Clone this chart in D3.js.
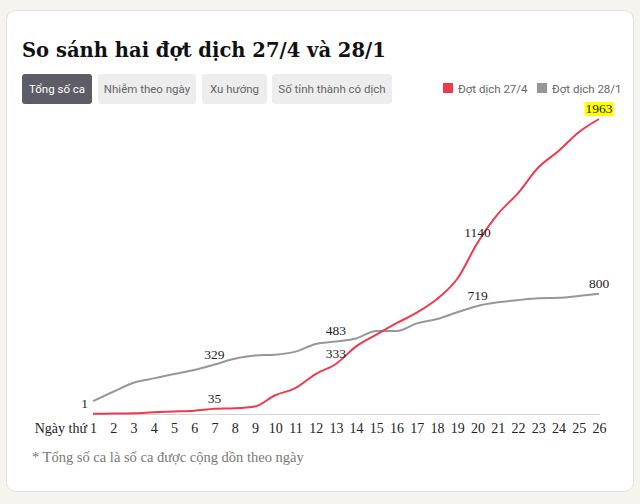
<!DOCTYPE html>
<html>
<head>
<meta charset="utf-8">
<script src="https://cdn.jsdelivr.net/npm/d3@7"></script>
<style>
  html, body { margin: 0; padding: 0; background: #f6f4ef; }
  svg { display: block; }
</style>
</head>
<body>
<svg id="chart" width="640" height="504"></svg>
<script>
// ---- data ----
const days = d3.range(1, 27);
const seriesNames = ["Đợt dịch 27/4", "Đợt dịch 28/1"];
const red27_4 = [2, 3, 5, 12, 17, 22, 35, 38, 50, 125, 172, 266, 333, 450, 528, 604, 675, 765, 900, 1140, 1330, 1470, 1640, 1750, 1875, 1963];
const gray28_1 = [86, 148, 208, 237, 266, 293, 329, 368, 390, 395, 415, 466, 483, 503, 552, 552, 603, 632, 677, 719, 743, 758, 770, 773, 785, 800];
const buttons = ["Tổng số ca", "Nhiễm theo ngày", "Xu hướng", "Số tỉnh thành có dịch"];
const redLabels = [{day: 7, text: "35"}, {day: 13, text: "333"}, {day: 20, text: "1140"}, {day: 26, text: "1963", highlight: true}];
const grayLabels = [{day: 1, text: "1", side: "left"}, {day: 7, text: "329"}, {day: 13, text: "483"}, {day: 20, text: "719"}, {day: 26, text: "800"}];
const titleText = "So sánh hai đợt dịch 27/4 và 28/1";
const axisPrefix = "Ngày thứ";
const footnote = "* Tổng số ca là số ca được cộng dồn theo ngày";

const colors = ["#eb3b4d", "#97969b"];
const serif = "'DejaVu Serif', serif";
const serifText = "'Liberation Serif', serif";
const sans = "Roboto, 'Liberation Sans', sans-serif";

const svg = d3.select("#chart");

// card
svg.append("rect").attr("x", 0).attr("y", 0).attr("width", 640).attr("height", 504).attr("fill", "#f6f4ef");
svg.append("rect").attr("x", 6.5).attr("y", 10.5).attr("width", 627).attr("height", 481)
  .attr("rx", 9).attr("fill", "#fff").attr("stroke", "#e3e1dc");

// title (fit to reference width)
const title = svg.append("text").attr("x", 22).attr("y", 57)
  .attr("font-family", serif).attr("font-weight", "bold").attr("font-size", 24)
  .attr("fill", "#111").text(titleText);
const tw = title.node().getComputedTextLength();
title.attr("font-size", 24 * 364 / tw);

// buttons
const btnX = [22, 98, 202, 272];
const btnW = [70, 98, 65, 120];
const bg = svg.append("g");
buttons.forEach((b, i) => {
  bg.append("rect").attr("x", btnX[i]).attr("y", 74).attr("width", btnW[i]).attr("height", 30)
    .attr("rx", 3).attr("fill", i === 0 ? "#5e5c66" : "#ededee");
  bg.append("text").attr("x", btnX[i] + btnW[i] / 2).attr("y", 93)
    .attr("text-anchor", "middle").attr("font-family", sans).attr("font-size", 11.5)
    .attr("fill", i === 0 ? "#fff" : "#666").text(b);
});

// legend
const legX = [443, 537];
seriesNames.forEach((n, i) => {
  svg.append("rect").attr("x", legX[i]).attr("y", 83).attr("width", 10).attr("height", 10).attr("fill", colors[i]);
  svg.append("text").attr("x", legX[i] + 15).attr("y", 92.5)
    .attr("font-family", sans).attr("font-size", 11.5).attr("fill", "#666").text(n);
});

// scales
const x = d3.scalePoint().domain(days).range([93, 599]);
const yMax = d3.max(red27_4.concat(gray28_1));
const y = d3.scaleLinear().domain([0, yMax]).range([414, 119]);

// axis
const axis = svg.append("g").attr("transform", "translate(0,414)")
  .call(d3.axisBottom(x).tickSize(0).tickPadding(9));
axis.select(".domain").attr("stroke", "#d4d4d4").attr("d", "M92,0.5H600");
axis.selectAll("text").attr("font-family", serifText).attr("font-size", 14).attr("fill", "#222");
svg.append("text").attr("x", 87).attr("y", 433).attr("text-anchor", "end")
  .attr("font-family", serifText).attr("font-size", 14).attr("fill", "#222").text(axisPrefix);

// lines
const line = d3.line().x((d, i) => x(days[i])).y(d => y(d)).curve(d3.curveMonotoneX);
[gray28_1, red27_4].forEach((s, k) => {
  svg.append("path").datum(s).attr("d", line).attr("fill", "none")
    .attr("stroke", k === 0 ? colors[1] : colors[0]).attr("stroke-width", 2);
});

// labels
const labelLayer = svg.append("g");
function addLabels(labels, values) {
  labels.forEach(l => {
    const px = x(l.day), py = y(values[l.day - 1]);
    if (l.side === "left") {
      labelLayer.append("text").attr("x", px - 5).attr("y", py + 7).attr("text-anchor", "end")
        .attr("font-family", serifText).attr("font-size", 13.5).attr("fill", "#222").text(l.text);
      return;
    }
    const t = labelLayer.append("text").attr("x", px).attr("y", py - 6).attr("text-anchor", "middle")
      .attr("font-family", serifText).attr("font-size", 13.5).attr("fill", "#222").text(l.text);
    if (l.highlight) {
      const bb = t.node().getBBox();
      labelLayer.append("rect")
        .attr("x", bb.x - 1).attr("y", bb.y + 1).attr("width", bb.width + 2).attr("height", bb.height - 1)
        .attr("fill", "#ffff00");
      t.raise();
    }
  });
}
addLabels(redLabels, red27_4);
addLabels(grayLabels, gray28_1);

// footnote
svg.append("text").attr("x", 32).attr("y", 462)
  .attr("font-family", serifText).attr("font-size", 14.5).attr("fill", "#777").text(footnote);
</script>
</body>
</html>
